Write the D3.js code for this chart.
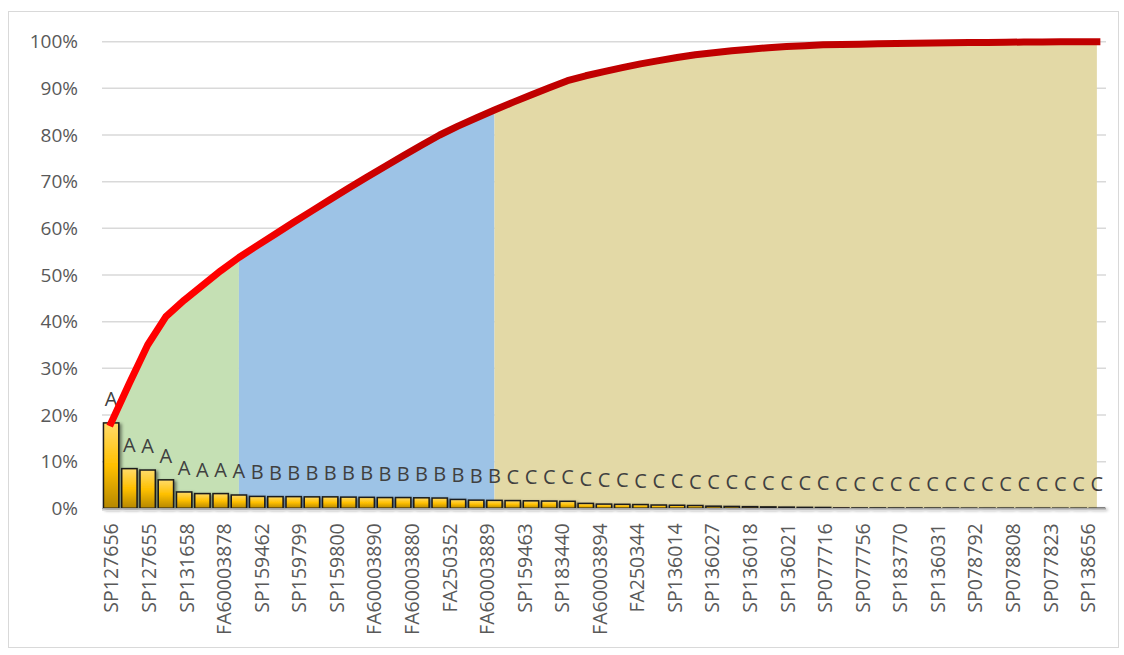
<!DOCTYPE html>
<html>
<head>
<meta charset="utf-8">
<script src="https://cdn.jsdelivr.net/npm/d3@7"></script>
<style>
  html, body { margin: 0; background: #fff; }
  svg { display: block; }
</style>
</head>
<body>
<svg id="chart" width="1124" height="655"></svg>
<script>
// Share of total per item, sorted descending (percent)
const shares = [
  18.3, 8.5, 8.2, 6.1, 3.5, 3.15, 3.15, 2.85,
  2.55, 2.5, 2.5, 2.45, 2.45, 2.4, 2.35, 2.3, 2.3, 2.25, 2.2, 1.9, 1.75, 1.7,
  1.65, 1.6, 1.55, 1.5,
  1.05, 0.9, 0.85, 0.8, 0.7, 0.65, 0.6,
  0.45, 0.4, 0.35, 0.3, 0.25, 0.2, 0.18,
  0.08, 0.07, 0.07, 0.06, 0.06, 0.05, 0.05, 0.04, 0.04, 0.04, 0.03, 0.03, 0.02, 0.02, 0.01
];

// ABC class of each item
const classes = ("AAAAAAAA" + "BBBBBBBBBBBBBB" + "CCCCCCCCCCCCCCCCCCCCCCCCCCCCCCCCC").split("");

// Item codes printed under every other bar
const tickLabels = [
  "SP127656", "SP127655", "SP131658", "FA60003878", "SP159462", "SP159799",
  "SP159800", "FA60003890", "FA60003880", "FA250352", "FA60003889", "SP159463",
  "SP183440", "FA60003894", "FA250344", "SP136014", "SP136027", "SP136018",
  "SP136021", "SP077716", "SP077756", "SP183770", "SP136031", "SP078792",
  "SP078808", "SP077823", "SP138656"
];

const yTicks = [0, 0.1, 0.2, 0.3, 0.4, 0.5, 0.6, 0.7, 0.8, 0.9, 1.0];

const classNames = ["A", "B", "C"];
const classColors = { A: "#c5e0b4", B: "#9dc3e6", C: "#e3d9a6" };

// ---------------------------------------------------------------
const svg = d3.select("#chart");
const plot = { left: 102, right: 1106, top: 41.7, bottom: 508.3 };
const FONT = "'Open Sans', 'Segoe UI', sans-serif";

const total = d3.sum(shares);
const value = shares.map(v => v / total);
const cumulative = Array.from(d3.cumsum(value));
const idx = d3.range(shares.length);

const x = d3.scaleBand()
  .domain(idx)
  .range([plot.left, plot.right])
  .paddingInner(0.16)
  .paddingOuter(0.08);
const cx = i => x(i) + x.bandwidth() / 2;

const y = d3.scaleLinear().domain([0, 1]).range([plot.bottom, plot.top]);

// chart frame
svg.append("rect")
  .attr("x", 8.5).attr("y", 11.5)
  .attr("width", 1110).attr("height", 636)
  .attr("fill", "#fff")
  .attr("stroke", "#d9d9d9").attr("stroke-width", 1);

// defs: bar gradient, shadow, line gradient
const defs = svg.append("defs");

const barGrad = defs.append("linearGradient")
  .attr("id", "barFill").attr("x1", 0).attr("y1", 0).attr("x2", 0).attr("y2", 1);
barGrad.append("stop").attr("offset", "0%").attr("stop-color", "#ffdb6a");
barGrad.append("stop").attr("offset", "50%").attr("stop-color", "#ffc000");
barGrad.append("stop").attr("offset", "100%").attr("stop-color", "#b58700");

const shadow = defs.append("filter").attr("id", "barShadow")
  .attr("x", "-30%").attr("y", "-30%").attr("width", "160%").attr("height", "160%");
shadow.append("feDropShadow")
  .attr("dx", 2.2).attr("dy", 1.5).attr("stdDeviation", 1.4)
  .attr("flood-color", "#000").attr("flood-opacity", 0.45);

const lineGrad = defs.append("linearGradient")
  .attr("id", "lineStroke")
  .attr("gradientUnits", "userSpaceOnUse")
  .attr("x1", cx(0)).attr("y1", 0)
  .attr("x2", cx(idx.length - 1)).attr("y2", 0);
lineGrad.append("stop").attr("offset", "0%").attr("stop-color", "#ff0000");
lineGrad.append("stop").attr("offset", "12%").attr("stop-color", "#ff0000");
lineGrad.append("stop").attr("offset", "30%").attr("stop-color", "#c00000");
lineGrad.append("stop").attr("offset", "100%").attr("stop-color", "#c00000");

// horizontal gridlines
svg.append("g")
  .selectAll("line")
  .data(yTicks.filter(t => t > 0))
  .join("line")
  .attr("x1", plot.left).attr("x2", plot.right)
  .attr("y1", d => y(d)).attr("y2", d => y(d))
  .attr("stroke", "#d9d9d9").attr("stroke-width", 1.5);

// y axis labels
const yAxis = d3.axisLeft(y).tickValues(yTicks).tickFormat(d3.format(".0%")).tickSize(0).tickPadding(0);
svg.append("g")
  .attr("transform", `translate(78,0)`)
  .call(yAxis)
  .call(g => g.select(".domain").remove())
  .call(g => g.selectAll("text")
    .attr("font-family", FONT).attr("font-size", 19).attr("fill", "#595959"));

// cumulative share areas, one per class; each starts where the previous one ends
const area = d3.area()
  .x(i => cx(i))
  .y0(y(0))
  .y1(i => y(cumulative[i]));

const areaData = classNames.map(name => {
  const members = idx.filter(i => classes[i] === name);
  const first = d3.min(members), last = d3.max(members);
  const start = first > 0 ? first - 1 : first;
  return { name, points: d3.range(start, last + 1) };
});

svg.append("g")
  .selectAll("path")
  .data(areaData)
  .join("path")
  .attr("d", d => area(d.points))
  .attr("fill", d => classColors[d.name]);

// bars
svg.append("g")
  .attr("filter", "url(#barShadow)")
  .selectAll("rect")
  .data(idx)
  .join("rect")
  .attr("x", i => x(i))
  .attr("width", x.bandwidth())
  .attr("y", i => y(value[i]))
  .attr("height", i => y(0) - y(value[i]))
  .attr("fill", "url(#barFill)")
  .attr("stroke", "#1a1a1a")
  .attr("stroke-width", 1.5);

// class letters above bars
svg.append("g")
  .selectAll("text")
  .data(idx)
  .join("text")
  .attr("x", i => cx(i))
  .attr("y", i => y(value[i]) - 17)
  .attr("text-anchor", "middle")
  .attr("font-family", FONT)
  .attr("font-size", 20)
  .attr("fill", "#404040")
  .text(i => classes[i]);

// x axis baseline
svg.append("line")
  .attr("x1", plot.left).attr("x2", plot.right)
  .attr("y1", y(0) + 0.5).attr("y2", y(0) + 0.5)
  .attr("stroke", "#a6a6a6").attr("stroke-width", 1.5);
svg.append("line")
  .attr("x1", plot.left).attr("x2", plot.right)
  .attr("y1", y(0) + 2).attr("y2", y(0) + 2)
  .attr("stroke", "#e0e0e0").attr("stroke-width", 1.2);

// category labels, spread evenly from the first bar to half a step before the last
const labelX = d3.scalePoint()
  .domain(tickLabels)
  .range([cx(0), cx(idx.length - 1) - x.step() / 2]);
const xAxis = d3.axisBottom(labelX).tickSize(0).tickPadding(0);
svg.append("g")
  .attr("transform", `translate(0,${y(0)})`)
  .call(xAxis)
  .call(g => g.select(".domain").remove())
  .call(g => g.selectAll("text")
    .attr("transform", "translate(0,15) rotate(-90)")
    .attr("x", 0).attr("y", 0).attr("dy", "0.35em")
    .attr("text-anchor", "end")
    .attr("font-family", FONT).attr("font-size", 19.5).attr("fill", "#595959"));

// cumulative line
const line = d3.line()
  .x(i => cx(i))
  .y(i => y(cumulative[i]));

svg.append("path")
  .datum(idx)
  .attr("d", line)
  .attr("fill", "none")
  .attr("stroke", "url(#lineStroke)")
  .attr("stroke-width", 7)
  .attr("stroke-linejoin", "round")
  .attr("stroke-linecap", "square");
</script>
</body>
</html>
